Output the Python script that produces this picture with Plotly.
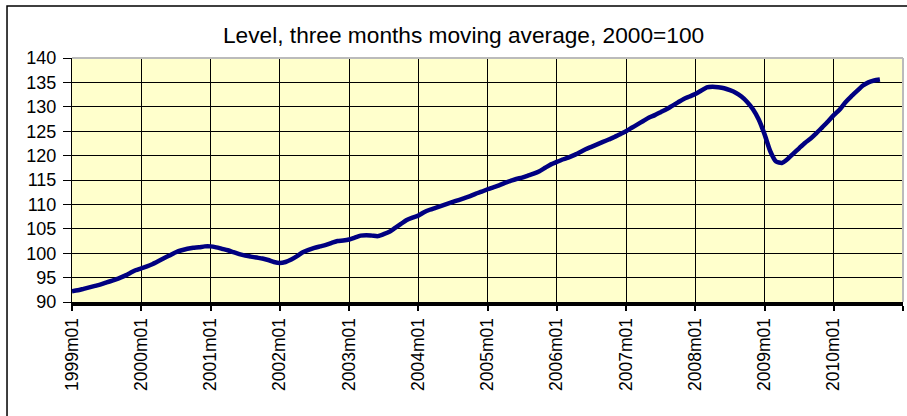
import plotly.graph_objects as go

# Tick labels (category axis, one label per January)
tick_labels = ["1999m01", "2000m01", "2001m01", "2002m01", "2003m01", "2004m01",
               "2005m01", "2006m01", "2007m01", "2008m01", "2009m01", "2010m01"]

# Monthly values, 1999m01 .. 2010m09 (three months moving average, 2000=100)
values_1999 = [92.2, 92.4, 92.7, 93.0, 93.3, 93.6, 94.0, 94.4, 94.8, 95.3, 95.9, 96.5]
values_2000 = [96.9, 97.3, 97.8, 98.4, 99.0, 99.6, 100.2, 100.6, 100.9, 101.1, 101.2, 101.4]
values_2001 = [101.4, 101.2, 100.9, 100.6, 100.2, 99.8, 99.5, 99.3, 99.1, 98.9, 98.6, 98.2]
values_2002 = [98.0, 98.2, 98.7, 99.4, 100.2, 100.7, 101.1, 101.4, 101.7, 102.1, 102.5, 102.6]
values_2003 = [102.8, 103.2, 103.6, 103.7, 103.6, 103.5, 103.9, 104.4, 105.2, 106.0, 106.8, 107.3]
values_2004 = [107.7, 108.4, 108.9, 109.3, 109.7, 110.1, 110.5, 110.9, 111.3, 111.7, 112.2, 112.6]
values_2005 = [113.1, 113.5, 113.9, 114.4, 114.8, 115.2, 115.5, 115.9, 116.3, 116.8, 117.5, 118.2]
values_2006 = [118.7, 119.2, 119.6, 120.1, 120.7, 121.3, 121.8, 122.3, 122.8, 123.3, 123.8, 124.4]
values_2007 = [125.0, 125.7, 126.4, 127.1, 127.8, 128.3, 128.9, 129.5, 130.2, 130.9, 131.6, 132.1]
values_2008 = [132.6, 133.3, 134.0, 134.1, 134.0, 133.8, 133.4, 132.9, 132.1, 131.0, 129.5, 127.4]
values_2009 = [124.4, 120.9, 118.8, 118.5, 119.3, 120.4, 121.5, 122.6, 123.5, 124.6, 125.8, 127.0]
values_2010 = [128.3, 129.4, 130.9, 132.1, 133.2, 134.3, 135.0, 135.4, 135.6]

values = (values_1999 + values_2000 + values_2001 + values_2002 + values_2003 +
          values_2004 + values_2005 + values_2006 + values_2007 + values_2008 +
          values_2009 + values_2010)

years = list(range(1999, 2011))
months = [f"{y}m{m:02d}" for y in years for m in range(1, 13)][:len(values)]
x_index = list(range(len(values)))

title_text = "Level, three months moving average, 2000=100"
FONT = "Arial, 'Liberation Sans', sans-serif"

fig = go.Figure()
fig.add_trace(go.Scatter(
    x=x_index, y=values, mode="lines",
    line=dict(color="#000080", width=4.5, shape="spline", smoothing=0.6),
    customdata=months, hovertemplate="%{customdata}: %{y}<extra></extra>",
    showlegend=False,
))

tickvals = [12 * i for i in range(len(tick_labels))] + [144]
ticktext = tick_labels + [""]

fig.update_layout(
    width=907, height=416,
    margin=dict(l=72, r=4, t=58, b=114, autoexpand=False),
    paper_bgcolor="white",
    plot_bgcolor="#FFFFCC",
    font=dict(family=FONT, color="black", size=17),
    xaxis=dict(
        range=[0, 144], tickmode="array", tickvals=tickvals, ticktext=ticktext,
        tickangle=-90, ticks="outside", ticklen=5, tickwidth=2, tickcolor="black",
        showline=True, linecolor="black", linewidth=4,
        showgrid=True, gridcolor="black", gridwidth=1, automargin=False,
        zeroline=False, tickfont=dict(size=17.5, family=FONT),
    ),
    yaxis=dict(
        range=[90, 140], tickmode="linear", tick0=90, dtick=5,
        ticks="outside", ticklen=8, tickwidth=1, tickcolor="black",
        ticklabelstandoff=3,
        showline=True, linecolor="black", linewidth=1, automargin=False,
        showgrid=True, gridcolor="black", gridwidth=1,
        zeroline=False, tickfont=dict(size=18, family=FONT),
    ),
    annotations=[dict(
        text=title_text, xref="paper", yref="paper", x=0.471, y=1.096,
        xanchor="center", yanchor="middle", showarrow=False,
        font=dict(size=22.7, family=FONT, color="black"),
    )],
    shapes=[
        # plot-area frame (top and right, grey)
        dict(type="line", xref="paper", yref="paper", x0=0, x1=1, y0=1, y1=1,
             line=dict(color="#BBBBBB", width=2)),
        dict(type="line", xref="paper", yref="paper", x0=1, x1=1, y0=0, y1=1,
             line=dict(color="#BBBBBB", width=2)),
        # outer chart border
        dict(type="rect", xref="paper", yref="paper", x0=-0.0782, x1=1.02,
             y0=-0.5, y1=1.213, line=dict(color="black", width=1.5),
             fillcolor="rgba(0,0,0,0)"),
    ],
)

fig.write_html(
    "out.html",
    config={"displayModeBar": False},
    post_script="document.body.style.margin='0';document.body.style.overflow='hidden';",
)
